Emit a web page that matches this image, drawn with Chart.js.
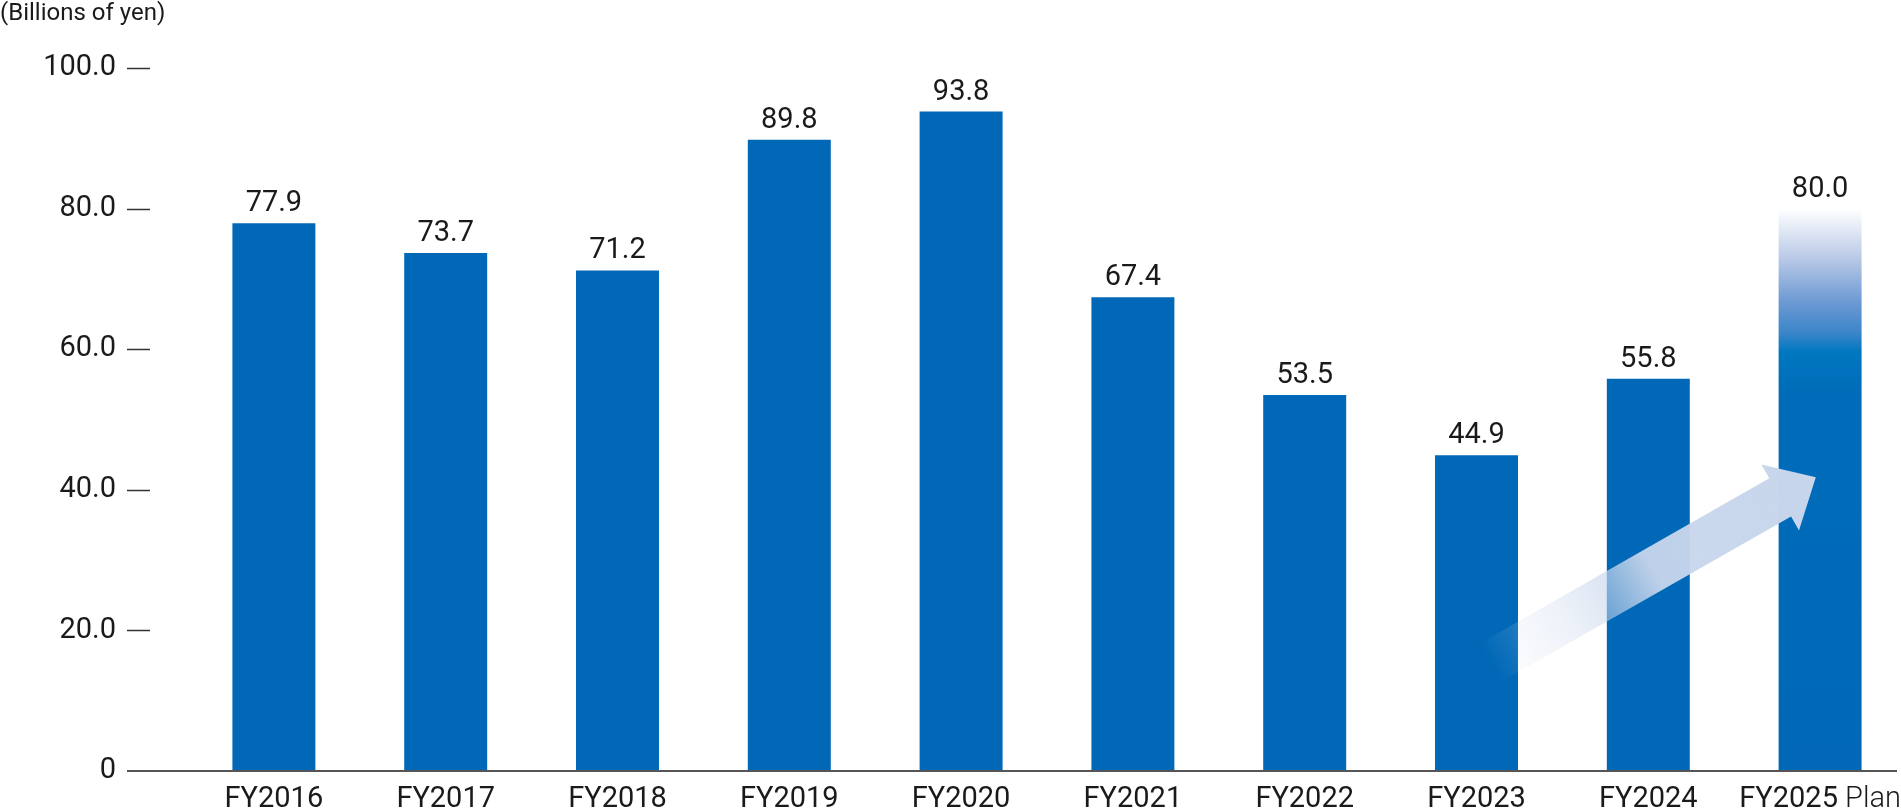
<!DOCTYPE html>
<html>
<head>
<meta charset="utf-8">
<script src="https://cdn.jsdelivr.net/npm/chart.js@4.4.1/dist/chart.umd.min.js"></script>
<style>
  html, body { margin: 0; padding: 0; background: #fff; overflow: hidden; }
  #frame { width: 1901px; height: 808px; overflow: hidden; position: relative; }
  canvas { display: block; }
</style>
</head>
<body>
<div id="frame"><canvas id="capexChart" width="1906" height="808"></canvas></div>
<script>
const categories = ['FY2016', 'FY2017', 'FY2018', 'FY2019', 'FY2020', 'FY2021', 'FY2022', 'FY2023', 'FY2024', 'FY2025']
const categorySuffix = ['', '', '', '', '', '', '', '', '', ' Plan']
const amounts = [77.9, 73.7, 71.2, 89.8, 93.8, 67.4, 53.5, 44.9, 55.8, 80.0]
const yTicks = [0, 20, 40, 60, 80, 100]
const unitLabel = '(Billions of yen)'

// arrow annotation, in (category index, value) units
const arrowFrom = [7.08, 15.4]
const arrowTo = [8.975, 41.8]

const planIndex = categories.length - 1
const barBlue = '#0068b7'
const textColor = '#1a1a1a'
const fontFamily = 'Roboto, "Noto Sans", sans-serif'

const barColor = (ctx) => {
  if (ctx.dataIndex !== planIndex) return barBlue
  const chart = ctx.chart
  const area = chart.chartArea
  if (!area) return barBlue
  const y = chart.scales.y
  const top = y.getPixelForValue(amounts[planIndex])
  const bottom = y.getPixelForValue(0)
  const g = chart.ctx.createLinearGradient(0, top, 0, bottom)
  g.addColorStop(0, 'rgba(255,255,255,1)')
  g.addColorStop(0.09, '#b8c8e6')
  g.addColorStop(0.165, '#6d9ad3')
  g.addColorStop(0.22, '#3c86c9')
  g.addColorStop(0.255, '#0077c0')
  g.addColorStop(0.33, '#006cb9')
  g.addColorStop(1, barBlue)
  return g
}

const decor = {
  id: 'decor',
  afterDatasetsDraw(chart) {
    const { ctx, scales: { x, y } } = chart

    // rising arrow
    const tx = x.getPixelForValue(arrowFrom[0]), ty = y.getPixelForValue(arrowFrom[1])
    const px = x.getPixelForValue(arrowTo[0]), py = y.getPixelForValue(arrowTo[1])
    const len = Math.hypot(px - tx, py - ty)
    const ux = (px - tx) / len, uy = (py - ty) / len
    const nx = -uy, ny = ux
    const headLen = 41, headHalf = 38, shaftHalf = 22
    const bx = px - ux * headLen, by = py - uy * headLen
    const grad = ctx.createLinearGradient(tx, ty, px, py)
    grad.addColorStop(0, 'rgba(200,214,236,0)')
    grad.addColorStop(0.25, 'rgba(200,214,236,0.35)')
    grad.addColorStop(0.5, 'rgba(200,214,236,0.95)')
    grad.addColorStop(1, 'rgba(200,214,236,1)')
    ctx.save()
    ctx.beginPath()
    ctx.moveTo(tx + nx * shaftHalf, ty + ny * shaftHalf)
    ctx.lineTo(bx + nx * shaftHalf, by + ny * shaftHalf)
    ctx.lineTo(bx + nx * headHalf, by + ny * headHalf)
    ctx.lineTo(px, py)
    ctx.lineTo(bx - nx * headHalf, by - ny * headHalf)
    ctx.lineTo(bx - nx * shaftHalf, by - ny * shaftHalf)
    ctx.lineTo(tx - nx * shaftHalf, ty - ny * shaftHalf)
    ctx.closePath()
    ctx.fillStyle = grad
    ctx.fill()

    // value labels
    ctx.fillStyle = textColor
    ctx.font = '29px ' + fontFamily
    ctx.textAlign = 'center'
    ctx.textBaseline = 'alphabetic'
    chart.getDatasetMeta(0).data.forEach((bar, i) => {
      ctx.fillText(amounts[i].toFixed(1), bar.x, bar.y - 12)
    })
    ctx.restore()
  },
  afterDraw(chart) {
    const { ctx, chartArea, scales: { x, y } } = chart
    ctx.save()
    // unit label
    ctx.fillStyle = textColor
    ctx.font = '24px ' + fontFamily
    ctx.textAlign = 'left'
    ctx.textBaseline = 'top'
    ctx.fillText(unitLabel, 0, 2)

    // category labels (main part regular, suffix light)
    const regular = '29px ' + fontFamily
    const light = '300 29px ' + fontFamily
    ctx.textBaseline = 'alphabetic'
    ctx.textAlign = 'left'
    const labelY = chartArea.bottom + 36
    categories.forEach((c, i) => {
      ctx.font = regular
      const w1 = ctx.measureText(c).width
      ctx.font = light
      const w2 = categorySuffix[i] ? ctx.measureText(categorySuffix[i]).width : 0
      const cx = x.getPixelForValue(i)
      const start = cx - (w1 + w2) / 2
      ctx.font = regular
      ctx.fillText(c, start, labelY)
      if (w2) {
        ctx.font = light
        ctx.fillText(categorySuffix[i], start + w1, labelY)
      }
    })

    // tick dashes
    ctx.strokeStyle = '#333'
    ctx.lineWidth = 1.5
    yTicks.slice(1).forEach(v => {
      const py = Math.round(y.getPixelForValue(v)) + 0.5
      ctx.beginPath()
      ctx.moveTo(127, py)
      ctx.lineTo(150, py)
      ctx.stroke()
    })
    // baseline
    const by = y.getPixelForValue(0)
    ctx.strokeStyle = '#555'
    ctx.lineWidth = 2
    ctx.beginPath()
    ctx.moveTo(127, by)
    ctx.lineTo(chartArea.right - 9, by)
    ctx.stroke()
    ctx.restore()
  }
}

new Chart(document.getElementById('capexChart'), {
  type: 'bar',
  data: {
    labels: categories,
    datasets: [{
      data: amounts,
      backgroundColor: barColor,
      borderWidth: 0,
      categoryPercentage: 1,
      barPercentage: 0.483
    }]
  },
  options: {
    responsive: false,
    devicePixelRatio: 1,
    animation: false,
    layout: { padding: { top: 68, right: 0, left: 0, bottom: 0 } },
    plugins: { legend: { display: false }, tooltip: { enabled: false } },
    scales: {
      x: {
        grid: { display: false },
        border: { display: false },
        ticks: { display: false },
        afterFit: (scale) => {
          scale.height = 37
          scale.paddingLeft = 0
          scale.paddingRight = 0
        }
      },
      y: {
        min: 0,
        max: 100,
        grid: { display: false, drawTicks: false },
        border: { display: false },
        ticks: {
          stepSize: 20,
          color: textColor,
          font: { family: fontFamily, size: 29 },
          padding: 72,
          callback: (v) => v === 0 ? '0' : v.toFixed(1)
        },
        afterFit: (scale) => {
          scale.width = 188
          scale.paddingTop = 0
          scale.paddingBottom = 0
        }
      }
    }
  },
  plugins: [decor]
})
</script>
</body>
</html>
